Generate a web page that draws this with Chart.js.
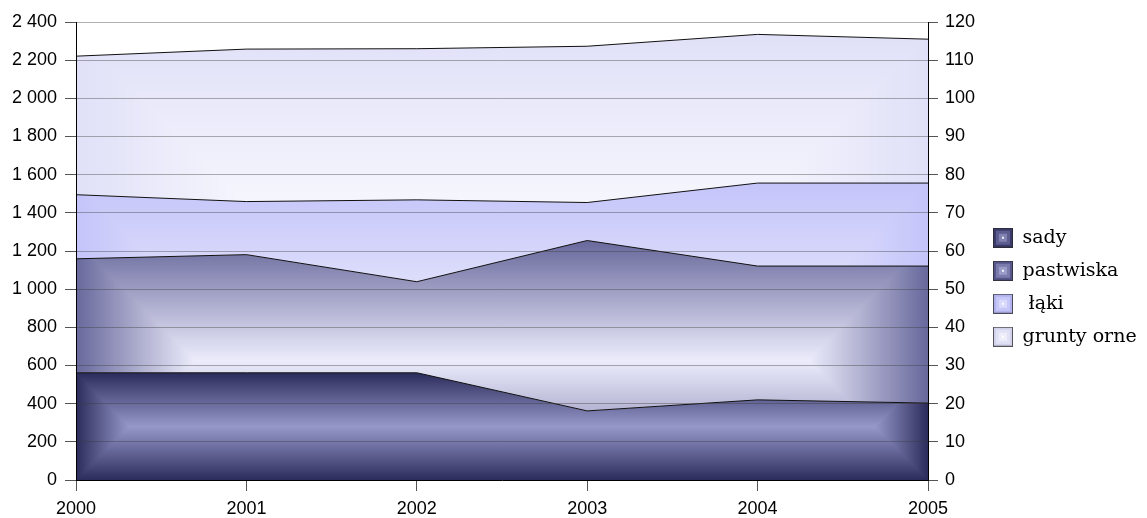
<!DOCTYPE html>
<html>
<head>
<meta charset="utf-8">
<script src="https://cdn.jsdelivr.net/npm/chart.js@4/dist/chart.umd.min.js"></script>
<style>
  html, body { margin: 0; background: #fff; }
  #wrap { width: 1147px; height: 518px; }
</style>
</head>
<body>
<div id="wrap"><canvas id="chart"></canvas></div>
<script>
// ===== data =====
const years = ['2000', '2001', '2002', '2003', '2004', '2005'];
const sady = [562, 562, 562, 362, 420, 403];
const pastwiska = [597, 619, 477, 893, 701, 718];
const laki = [336, 278, 429, 199, 435, 435];
const gruntyOrne = [726, 799, 792, 819, 779, 754];
const seriesNames = ['sady', 'pastwiska', ' łąki', 'grunty orne'];
const leftAxis = { min: 0, max: 2400, step: 200 };
const rightAxis = { min: 0, max: 120, step: 10 };

// ===== styles =====
const edgeColors = [[44, 44, 92], [104, 104, 156], [196, 196, 250], [224, 224, 248]];
const centerColors = [[150, 152, 202], [236, 236, 252], [234, 234, 252], [253, 253, 255]];
const iconColors = [
  ['#3a3a6a', '#5c5c8e', '#8282b2'],
  ['#56568a', '#7a7aac', '#9c9cc8'],
  ['#b2b2ee', '#c6c6f8', '#dadafc'],
  ['#d2d2ec', '#e2e2f6', '#eeeefa'],
];
const FONT = 'Liberation Sans, Arial, sans-serif';
const LEGEND_FONT = 'DejaVu Serif, serif';

const allSeries = [sady, pastwiska, laki, gruntyOrne];
// top of each stacked band, used for the bevel box of that band
const boxTop = allSeries.map((_, i) =>
  Math.max(...years.map((_, j) => allSeries.slice(0, i + 1).reduce((s, a) => s + a[j], 0))));

const rgb = c => `rgb(${c[0]},${c[1]},${c[2]})`;
const fmt = v => String(v).replace(/\B(?=(\d{3})+(?!\d))/g, ' ');

// "rectangle from centre" gradient, like the office area fill
const patternCache = {};
function bevelPattern(chart, i) {
  const area = chart.chartArea;
  if (!area || !chart.scales.y) return rgb(edgeColors[i]);
  const key = [i, area.left, area.top, area.right, area.bottom].join(',');
  if (patternCache[key]) return patternCache[key];
  const x0 = Math.round(area.left), x1 = Math.round(area.right);
  const y0 = Math.round(chart.scales.y.getPixelForValue(boxTop[i]));
  const y1 = Math.round(chart.scales.y.getPixelForValue(0));
  const w = x1 - x0, h = y1 - y0, d = Math.min(w, h) / 2;
  const cv = document.createElement('canvas');
  cv.width = chart.width; cv.height = chart.height;
  const g = cv.getContext('2d');
  const img = g.createImageData(w, h);
  const e = edgeColors[i], c = centerColors[i];
  for (let py = 0; py < h; py++) {
    for (let px = 0; px < w; px++) {
      const t = Math.min(1, Math.min(px + 0.5, w - px - 0.5, py + 0.5, h - py - 0.5) / d);
      const k = (py * w + px) * 4;
      img.data[k] = e[0] + (c[0] - e[0]) * t;
      img.data[k + 1] = e[1] + (c[1] - e[1]) * t;
      img.data[k + 2] = e[2] + (c[2] - e[2]) * t;
      img.data[k + 3] = 255;
    }
  }
  g.putImageData(img, x0, y0);
  const p = chart.ctx.createPattern(cv, 'no-repeat');
  patternCache[key] = p;
  return p;
}

function legendIcon(cols) {
  const cv = document.createElement('canvas');
  cv.width = 20; cv.height = 20;
  const g = cv.getContext('2d');
  g.fillStyle = cols[0]; g.fillRect(0, 0, 20, 20);
  g.fillStyle = cols[1]; g.fillRect(3, 3, 14, 14);
  g.fillStyle = cols[2]; g.fillRect(6, 6, 8, 8);
  g.fillStyle = 'rgba(255,255,255,0.9)'; g.fillRect(9, 9, 2, 2);
  g.strokeStyle = 'rgba(40,40,40,0.75)'; g.lineWidth = 1;
  g.strokeRect(0.5, 0.5, 19, 19);
  return cv;
}
const icons = iconColors.map(legendIcon);

// legend boxes start at x=993, plot ends at x=928
const LEGEND_FONT_SIZE = 19;
const LEGEND_PAD = 33 - LEGEND_FONT_SIZE;
const LEGEND_LEFT = 993 - LEGEND_PAD;
const measure = document.createElement('canvas').getContext('2d');
measure.font = `${LEGEND_FONT_SIZE}px ${LEGEND_FONT}`;
const textW = Math.max(...seriesNames.map(s => measure.measureText(s).width));
const legendW = LEGEND_PAD + 20 + LEGEND_FONT_SIZE / 2 + textW + 10;
const padRight = Math.max(0, 1147 - LEGEND_LEFT - legendW);

const datasets = allSeries.map((data, i) => ({
  label: seriesNames[i],
  data,
  fill: i === 0 ? 'origin' : '-1',
  backgroundColor: ctx => bevelPattern(ctx.chart, i),
  borderColor: '#111',
  borderWidth: 1,
  pointRadius: 0,
  pointHoverRadius: 0,
  tension: 0,
  yAxisID: 'y',
}));

new Chart(document.getElementById('chart'), {
  type: 'line',
  data: { labels: years, datasets },
  options: {
    responsive: true,
    maintainAspectRatio: false,
    animation: false,
    layout: { padding: { top: 22, right: padRight, left: 0, bottom: 0 } },
    plugins: {
      tooltip: { enabled: false },
      legend: {
        position: 'right',
        align: 'center',
        maxWidth: 1147 - LEGEND_LEFT,
        title: { display: true, text: '', padding: { top: 20, bottom: 0 } },
        labels: {
          usePointStyle: true,
          pointStyleWidth: 20,
          padding: LEGEND_PAD,
          color: '#000',
          font: { family: LEGEND_FONT, size: LEGEND_FONT_SIZE },
          generateLabels: chart => Chart.defaults.plugins.legend.labels.generateLabels(chart)
            .map(l => ({ ...l, text: seriesNames[l.datasetIndex], pointStyle: icons[l.datasetIndex] })),
        },
      },
    },
    scales: {
      x: {
        type: 'category',
        offset: false,
        grid: { drawOnChartArea: false, tickLength: 11, tickColor: '#555', z: 1 },
        border: { color: '#000', width: 1, z: 2 },
        ticks: { color: '#000', font: { family: FONT, size: 18 }, padding: 7, maxRotation: 0, autoSkip: false },
        afterFit: s => { s.height = 38; },
      },
      y: {
        position: 'left',
        stacked: true,
        min: leftAxis.min,
        max: leftAxis.max,
        grid: { color: 'rgba(60,60,60,0.4)', tickColor: '#555', tickLength: 11, z: 1 },
        border: { color: '#000', width: 1, z: 2 },
        ticks: { stepSize: leftAxis.step, color: '#000', font: { family: FONT, size: 18 }, padding: 8, callback: fmt },
        afterFit: s => { s.width = 76; },
      },
      y1: {
        position: 'right',
        min: rightAxis.min,
        max: rightAxis.max,
        grid: { drawOnChartArea: false, tickColor: '#555', tickLength: 10, z: 1 },
        border: { color: '#000', width: 1, z: 2 },
        ticks: { stepSize: rightAxis.step, color: '#000', font: { family: FONT, size: 18 }, padding: 7 },
        afterFit: s => { s.width = LEGEND_LEFT - 928; },
      },
    },
  },
});
</script>
</body>
</html>
